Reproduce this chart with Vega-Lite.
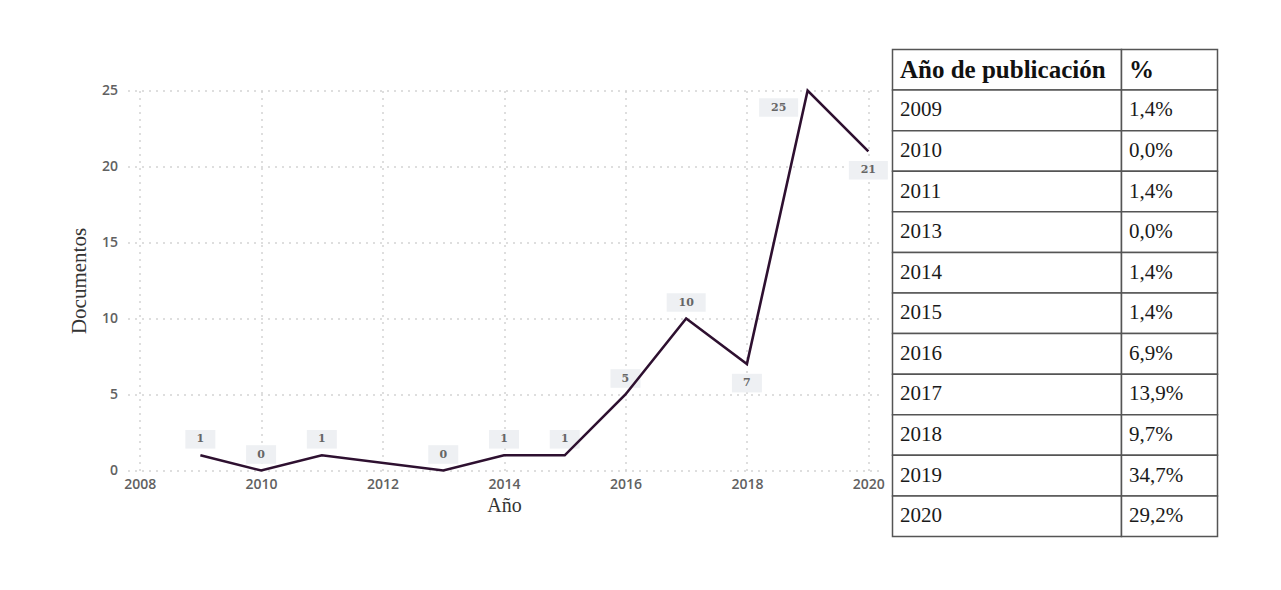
{
  "$schema": "https://vega.github.io/schema/vega-lite/v6.json",
  "background": "white",
  "padding": {"left": 67.5, "top": 48.5, "right": 5, "bottom": 5},
  "config": {"view": {"stroke": null}},
  "datasets": {
    "docs": [
      {"year": 2009, "docs": 1},
      {"year": 2010, "docs": 0},
      {"year": 2011, "docs": 1},
      {"year": 2013, "docs": 0},
      {"year": 2014, "docs": 1},
      {"year": 2015, "docs": 1},
      {"year": 2016, "docs": 5},
      {"year": 2017, "docs": 10},
      {"year": 2018, "docs": 7},
      {"year": 2019, "docs": 25},
      {"year": 2020, "docs": 21}
    ],
    "tabla": [
      {"c1": "Año de publicación", "c2": "%"},
      {"c1": "2009", "c2": "1,4%"},
      {"c1": "2010", "c2": "0,0%"},
      {"c1": "2011", "c2": "1,4%"},
      {"c1": "2013", "c2": "0,0%"},
      {"c1": "2014", "c2": "1,4%"},
      {"c1": "2015", "c2": "1,4%"},
      {"c1": "2016", "c2": "6,9%"},
      {"c1": "2017", "c2": "13,9%"},
      {"c1": "2018", "c2": "9,7%"},
      {"c1": "2019", "c2": "34,7%"},
      {"c1": "2020", "c2": "29,2%"}
    ]
  },
  "spacing": 3,
  "hconcat": [
    {
      "spacing": 0,
      "vconcat": [
        {
          "width": 753,
          "height": 34,
          "data": {"values": [{}]},
          "mark": {"type": "text"},
          "encoding": {"text": {"value": ""}}
        },
        {
          "width": 753,
          "height": 380,
          "data": {"name": "docs"},
          "encoding": {
            "x": {
              "field": "year", "type": "quantitative",
              "scale": {"domain": [2007.8, 2020.2], "nice": false, "zero": false},
              "axis": {
                "values": [2008, 2010, 2012, 2014, 2016, 2018, 2020], "format": "d",
                "title": "Año", "domain": false, "ticks": false, "labelFlush": false,
                "labelPadding": 7, "labelFont": "Open Sans", "labelFontWeight": 600,
                "labelFontSize": 14, "labelColor": "#616161",
                "titleFont": "Liberation Serif", "titleFontSize": 20, "titleFontWeight": "normal",
                "titleColor": "#333", "titlePadding": 4,
                "grid": true, "gridDash": [2, 5], "gridColor": "#d4d4d4", "gridWidth": 1.5
              }
            },
            "y": {
              "field": "docs", "type": "quantitative",
              "scale": {"domain": [0, 25], "nice": false},
              "axis": {
                "values": [0, 5, 10, 15, 20, 25],
                "title": "Documentos", "domain": false, "ticks": false, "labelFlush": false,
                "labelPadding": 10, "labelFont": "Open Sans", "labelFontWeight": 600,
                "labelFontSize": 14, "labelColor": "#616161",
                "titleFont": "Liberation Serif", "titleFontSize": 21, "titleFontWeight": "normal",
                "titleColor": "#333", "titlePadding": 12,
                "grid": true, "gridDash": [2, 5], "gridColor": "#d4d4d4", "gridWidth": 1.5
              }
            }
          },
          "layer": [
            {
              "transform": [{"filter": "datum.year < 2018"}],
              "mark": {"type": "point", "size": 900, "filled": true, "fill": "#eef0f3", "opacity": 1, "strokeWidth": 0, "yOffset": -16},
              "encoding": {"shape": {"condition": {"test": "datum.docs >= 10", "value": "M-1.3,-0.62H1.3V0.62H-1.3Z"}, "value": "M-1,-0.62H1V0.62H-1Z"}}
            },
            {
              "transform": [{"filter": "datum.year == 2018 || datum.year == 2020"}],
              "mark": {"type": "point", "size": 900, "filled": true, "fill": "#eef0f3", "opacity": 1, "strokeWidth": 0, "yOffset": 19},
              "encoding": {"shape": {"condition": {"test": "datum.docs >= 10", "value": "M-1.3,-0.62H1.3V0.62H-1.3Z"}, "value": "M-1,-0.62H1V0.62H-1Z"}}
            },
            {
              "transform": [{"filter": "datum.year == 2019"}],
              "mark": {"type": "point", "size": 900, "filled": true, "fill": "#eef0f3", "opacity": 1, "strokeWidth": 0, "xOffset": -29, "yOffset": 17},
              "encoding": {"shape": {"condition": {"test": "datum.docs >= 10", "value": "M-1.3,-0.62H1.3V0.62H-1.3Z"}, "value": "M-1,-0.62H1V0.62H-1Z"}}
            },
            {
              "mark": {"type": "line", "color": "#2e1030", "strokeWidth": 2.6}
            },
            {
              "transform": [{"filter": "datum.year < 2018"}],
              "mark": {"type": "text", "font": "DejaVu Serif", "fontSize": 11, "fontWeight": "bold", "color": "#666", "baseline": "middle", "dy": -16},
              "encoding": {"text": {"field": "docs", "type": "quantitative"}}
            },
            {
              "transform": [{"filter": "datum.year == 2018 || datum.year == 2020"}],
              "mark": {"type": "text", "font": "DejaVu Serif", "fontSize": 11, "fontWeight": "bold", "color": "#666", "baseline": "middle", "dy": 19},
              "encoding": {"text": {"field": "docs", "type": "quantitative"}}
            },
            {
              "transform": [{"filter": "datum.year == 2019"}],
              "mark": {"type": "text", "font": "DejaVu Serif", "fontSize": 11, "fontWeight": "bold", "color": "#666", "baseline": "middle", "dx": -29, "dy": 17},
              "encoding": {"text": {"field": "docs", "type": "quantitative"}}
            }
          ]
        }
      ]
    },
    {
      "spacing": 0,
      "bounds": "flush",
      "hconcat": [
        {
          "width": 229,
          "height": 487,
          "data": {"name": "tabla"},
          "encoding": {
            "y": {"field": "c1", "type": "nominal", "sort": null, "axis": null, "scale": {"paddingInner": 0, "paddingOuter": 0}}
          },
          "layer": [
            {"mark": {"type": "rect", "fill": "white", "stroke": "#555", "strokeWidth": 1.5}},
            {
              "transform": [{"filter": "datum.c2 != '%'"}],
              "mark": {"type": "text", "align": "left", "baseline": "middle", "font": "Liberation Serif", "fontSize": 21, "color": "#1a1a1a", "x": 7.5},
              "encoding": {"text": {"field": "c1"}}
            },
            {
              "transform": [{"filter": "datum.c2 == '%'"}],
              "mark": {"type": "text", "align": "left", "baseline": "middle", "font": "Liberation Serif", "fontSize": 25, "fontWeight": "bold", "color": "#111", "x": 7.5},
              "encoding": {"text": {"field": "c1"}}
            }
          ]
        },
        {
          "width": 96,
          "height": 487,
          "data": {"name": "tabla"},
          "encoding": {
            "y": {"field": "c1", "type": "nominal", "sort": null, "axis": null, "scale": {"paddingInner": 0, "paddingOuter": 0}}
          },
          "layer": [
            {"mark": {"type": "rect", "fill": "white", "stroke": "#555", "strokeWidth": 1.5}},
            {
              "transform": [{"filter": "datum.c2 != '%'"}],
              "mark": {"type": "text", "align": "left", "baseline": "middle", "font": "Liberation Serif", "fontSize": 21, "color": "#1a1a1a", "x": 7.5},
              "encoding": {"text": {"field": "c2"}}
            },
            {
              "transform": [{"filter": "datum.c2 == '%'"}],
              "mark": {"type": "text", "align": "left", "baseline": "middle", "font": "Liberation Serif", "fontSize": 25, "fontWeight": "bold", "color": "#111", "x": 7.5},
              "encoding": {"text": {"field": "c2"}}
            }
          ]
        }
      ]
    }
  ]
}
